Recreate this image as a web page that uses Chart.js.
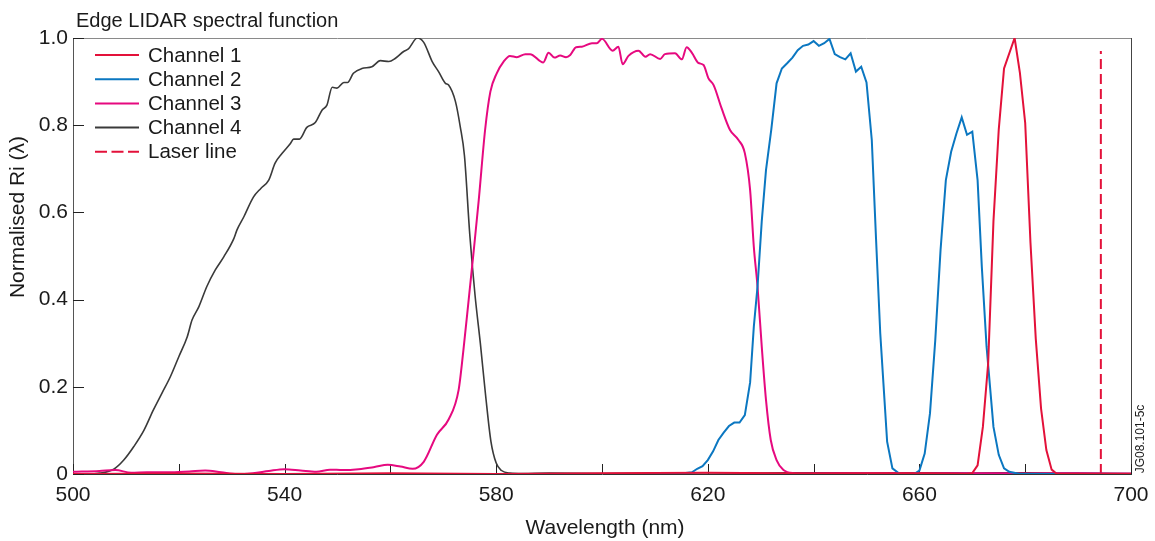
<!DOCTYPE html>
<html>
<head>
<meta charset="utf-8">
<script src="https://cdn.jsdelivr.net/npm/chart.js@4.4.1/dist/chart.umd.min.js"></script>
<style>
html,body{margin:0;padding:0;background:#fff;}
#wrap{width:1155px;height:541px;}
</style>
</head>
<body>
<div id="wrap"><canvas id="c" width="1155" height="541"></canvas></div>
<script>
// ---------- data ----------
const chartTitle = 'Edge LIDAR spectral function';
const xTitle = 'Wavelength (nm)';
const yTitle = 'Normalised Ri (\u03bb)';
const stampText = 'JG08.101-5c';
const seriesNames = ['Channel 1', 'Channel 2', 'Channel 3', 'Channel 4', 'Laser line'];
const xTickValues = [500, 520, 540, 560, 580, 600, 620, 640, 660, 680, 700];
const xTickLabels = ['500', '', '540', '', '580', '', '620', '', '660', '', '700'];
const yTickLabels = ['0', '0.2', '0.4', '0.6', '0.8', '1.0'];

const ch1X = [500, 520, 540, 560, 580, 600, 620, 640, 660, 669, 670, 671, 672, 673, 674, 675, 676, 678, 679, 680, 681, 682, 683, 684, 685, 686, 690, 700];
const ch1Y = [0, 0.001, 0, 0.002, 0, 0.002, 0.003, 0.001, 0.002, 0, 0.002, 0.02, 0.108, 0.254, 0.58, 0.79, 0.93, 1.0, 0.92, 0.805, 0.53, 0.31, 0.15, 0.055, 0.01, 0, 0, 0];

const ch2X = [500, 540, 580, 614, 615, 617, 618, 619, 620, 621, 622, 623, 624, 625, 626, 627, 628, 628.7, 629.4, 630.2, 631, 632, 633, 634, 635, 636, 637, 638, 639, 640, 641, 642, 643, 644, 645, 646, 647, 648, 649, 650, 651, 651.8, 652.6, 653.2, 653.9, 654.9, 656.3, 659, 660, 661, 662, 663, 664, 665, 666, 667, 668, 669, 670, 671, 671.8, 672.7, 674, 675, 676, 677, 679, 690, 700];
const ch2Y = [0, 0, 0, 0, 0.001, 0.004, 0.012, 0.018, 0.032, 0.052, 0.078, 0.095, 0.11, 0.118, 0.118, 0.135, 0.21, 0.338, 0.43, 0.58, 0.697, 0.79, 0.896, 0.93, 0.942, 0.955, 0.972, 0.982, 0.985, 0.993, 0.982, 0.988, 0.998, 0.963, 0.956, 0.951, 0.965, 0.923, 0.934, 0.898, 0.766, 0.54, 0.323, 0.208, 0.074, 0.013, 0, 0, 0.008, 0.047, 0.139, 0.307, 0.514, 0.674, 0.739, 0.781, 0.818, 0.778, 0.785, 0.674, 0.475, 0.292, 0.108, 0.044, 0.013, 0.005, 0, 0, 0];

const ch3X = [500, 505, 508, 511, 514, 518, 522, 525, 528, 531, 534, 537, 540, 543, 546, 548.6, 551, 554, 557, 559.5, 561.9, 564.2, 566.3, 568.8, 571, 572.9, 573.8, 574.8, 575.7, 576.7, 577.9, 578.9, 580.1, 581.4, 582.6, 583.9, 585.5, 586.4, 588.9, 589.9, 591, 592.1, 593.2, 594, 595.1, 596.2, 598.1, 599, 600, 602, 603.1, 603.9, 605, 606.9, 608.2, 609.1, 611, 611.9, 613.8, 615.1, 616, 617, 618.2, 619.2, 620.1, 621.1, 622.6, 624.2, 625.8, 627, 628, 628.7, 629.4, 630.2, 631, 631.9, 633, 634.3, 636.2, 640, 650, 660, 670, 680, 690, 700];
const ch3Y = [0.005, 0.007, 0.009, 0.003, 0.004, 0.004, 0.006, 0.008, 0.004, 0.0, 0.002, 0.007, 0.011, 0.008, 0.005, 0.01, 0.009, 0.011, 0.016, 0.021, 0.017, 0.012, 0.028, 0.09, 0.125, 0.193, 0.284, 0.4, 0.506, 0.628, 0.789, 0.877, 0.919, 0.946, 0.959, 0.956, 0.963, 0.963, 0.944, 0.966, 0.955, 0.96, 0.956, 0.961, 0.979, 0.98, 0.988, 0.988, 0.998, 0.971, 0.98, 0.94, 0.959, 0.971, 0.957, 0.963, 0.952, 0.963, 0.965, 0.951, 0.979, 0.966, 0.943, 0.938, 0.908, 0.892, 0.839, 0.789, 0.766, 0.736, 0.651, 0.521, 0.43, 0.292, 0.17, 0.078, 0.032, 0.009, 0.002, 0.001, 0.002, 0.001, 0.002, 0.001, 0.002, 0.001];

const ch4X = [500, 503, 505, 507.7, 509.6, 511.5, 513.4, 515.2, 516.8, 518.4, 520, 521.6, 522.5, 523.8, 525.3, 526.9, 528.5, 530.4, 531, 532.3, 534.1, 535.5, 537, 538.2, 539.5, 541.1, 541.7, 542.8, 544.2, 545.8, 547.1, 548, 549, 549.9, 551.2, 551.9, 553, 554.6, 556.5, 558.1, 559.7, 560.9, 562.5, 563.4, 565.1, 566.3, 567.9, 569.1, 570.4, 571, 572.3, 573.2, 574, 575, 576, 577, 578, 579, 580, 581, 582.6, 585, 590, 600, 610, 620, 630, 640, 650, 660, 670, 680, 690, 700];
const ch4Y = [0, 0, 0.002, 0.011, 0.032, 0.063, 0.1, 0.147, 0.185, 0.223, 0.269, 0.315, 0.353, 0.384, 0.43, 0.468, 0.498, 0.54, 0.56, 0.59, 0.635, 0.655, 0.674, 0.713, 0.735, 0.758, 0.768, 0.768, 0.795, 0.806, 0.835, 0.846, 0.887, 0.885, 0.898, 0.898, 0.919, 0.93, 0.934, 0.948, 0.946, 0.953, 0.969, 0.975, 1.0, 0.99, 0.946, 0.923, 0.896, 0.892, 0.854, 0.797, 0.73, 0.55, 0.41, 0.3, 0.18, 0.075, 0.025, 0.008, 0.002, 0.001, 0.002, 0.001, 0.002, 0.003, 0.002, 0.003, 0.002, 0.003, 0.002, 0.003, 0.002, 0.001];

const laserX = [694.3, 694.3];
const laserY = [0, 0.97];

// ---------- styles ----------
const colors = ['#e3113a', '#0b77c1', '#e6097f', '#3a3a3a', '#e3113a'];
const FONT = "'Liberation Sans', Arial, Helvetica, sans-serif";
Chart.defaults.font.family = FONT;
Chart.defaults.color = '#1a1a1a';

const pts = (xs, ys) => xs.map((x, i) => ({x: x, y: ys[i]}));

const datasets = [
  {label: seriesNames[0], data: pts(ch1X, ch1Y), borderColor: colors[0], borderWidth: 2, tension: 0},
  {label: seriesNames[1], data: pts(ch2X, ch2Y), borderColor: colors[1], borderWidth: 2, tension: 0},
  {label: seriesNames[2], data: pts(ch3X, ch3Y), borderColor: colors[2], borderWidth: 2, cubicInterpolationMode: 'monotone'},
  {label: seriesNames[3], data: pts(ch4X, ch4Y), borderColor: colors[3], borderWidth: 1.6, cubicInterpolationMode: 'monotone'},
  {label: seriesNames[4], data: pts(laserX, laserY), borderColor: colors[4], borderWidth: 2, borderDash: [10, 5]}
];
datasets.forEach(d => { d.pointRadius = 0; d.pointHoverRadius = 0; d.fill = false; d.showLine = true; });

// ---------- decoration plugin ----------
const deco = {
  id: 'deco',
  beforeDatasetsDraw(chart) {
    const ctx = chart.ctx, a = chart.chartArea, xs = chart.scales.x, ys = chart.scales.y;
    ctx.save();
    ctx.lineWidth = 1;
    ctx.strokeStyle = '#8a8a8a';
    ctx.beginPath(); ctx.moveTo(a.left, a.top + 0.5); ctx.lineTo(a.right, a.top + 0.5); ctx.stroke();
    ctx.strokeStyle = '#444';
    ctx.beginPath(); ctx.moveTo(a.right + 0.5, a.top); ctx.lineTo(a.right + 0.5, a.bottom); ctx.stroke();
    ctx.strokeStyle = '#555';
    ctx.beginPath(); ctx.moveTo(a.left + 0.5, a.top); ctx.lineTo(a.left + 0.5, a.bottom + 1); ctx.stroke();
    ctx.strokeStyle = '#333';
    ctx.beginPath(); ctx.moveTo(a.left, a.bottom + 0.5); ctx.lineTo(a.right + 1, a.bottom + 0.5); ctx.stroke();
    ctx.strokeStyle = '#222';
    xs.ticks.forEach(t => {
      const px = Math.round(xs.getPixelForValue(t.value)) + 0.5;
      ctx.beginPath(); ctx.moveTo(px, a.bottom); ctx.lineTo(px, a.bottom - 10); ctx.stroke();
    });
    ys.ticks.forEach(t => {
      const py = Math.round(ys.getPixelForValue(t.value)) + 0.5;
      ctx.beginPath(); ctx.moveTo(a.left, py); ctx.lineTo(a.left + 11, py); ctx.stroke();
    });
    ctx.restore();
  },
  afterDraw(chart) {
    const ctx = chart.ctx;
    ctx.save();
    ctx.fillStyle = '#1a1a1a';
    ctx.font = '20px ' + FONT;
    ctx.textAlign = 'left'; ctx.textBaseline = 'alphabetic';
    ctx.fillText(chartTitle, 76, 27);
    ctx.font = '21px ' + FONT;
    ctx.textAlign = 'center'; ctx.textBaseline = 'middle';
    ctx.fillText(xTitle, 605, 528);
    ctx.save();
    ctx.translate(18, 217); ctx.rotate(-Math.PI / 2);
    ctx.fillText(yTitle, 0, 0);
    ctx.restore();
    ctx.save();
    ctx.font = '12px ' + FONT;
    ctx.translate(1141, 439); ctx.rotate(-Math.PI / 2);
    ctx.fillText(stampText, 0, 0);
    ctx.restore();
    ctx.font = '20.5px ' + FONT;
    ctx.textAlign = 'left'; ctx.textBaseline = 'middle';
    chart.data.datasets.forEach((d, i) => {
      const y = 55 + i * 24.2;
      ctx.save();
      ctx.strokeStyle = d.borderColor; ctx.lineWidth = 2;
      if (d.borderDash) ctx.setLineDash([12, 4.5]);
      ctx.beginPath(); ctx.moveTo(95, y); ctx.lineTo(139, y); ctx.stroke();
      ctx.restore();
      ctx.fillStyle = '#1a1a1a';
      ctx.fillText(d.label, 148, y + 1);
    });
    ctx.restore();
  }
};

new Chart(document.getElementById('c'), {
  type: 'line',
  data: {datasets: datasets},
  options: {
    responsive: false,
    animation: false,
    events: [],
    layout: {padding: {top: 38, right: 24, left: 0, bottom: 0}},
    plugins: {legend: {display: false}, title: {display: false}, tooltip: {enabled: false}},
    scales: {
      x: {
        type: 'linear', min: 500, max: 700,
        afterBuildTicks: s => { s.ticks = xTickValues.map(v => ({value: v})); },
        afterFit: s => { s.height = 67; s.paddingLeft = 0; s.paddingRight = 0; },
        grid: {display: false, drawTicks: false},
        border: {display: false},
        ticks: {
          autoSkip: false, maxRotation: 0, padding: 9,
          font: {size: 21}, color: '#1a1a1a',
          callback: (v) => { const i = xTickValues.indexOf(v); return i >= 0 ? xTickLabels[i] : ''; }
        }
      },
      y: {
        type: 'linear', min: 0, max: 1,
        afterBuildTicks: s => { s.ticks = yTickLabels.map((l, i) => ({value: i * 0.2})); },
        afterFit: s => { s.width = 73; s.paddingTop = 0; s.paddingBottom = 0; },
        grid: {display: false, drawTicks: false},
        border: {display: false},
        ticks: {
          padding: 5, font: {size: 21}, color: '#1a1a1a',
          callback: (v, i) => yTickLabels[i]
        }
      }
    }
  },
  plugins: [deco]
});
</script>
</body>
</html>
